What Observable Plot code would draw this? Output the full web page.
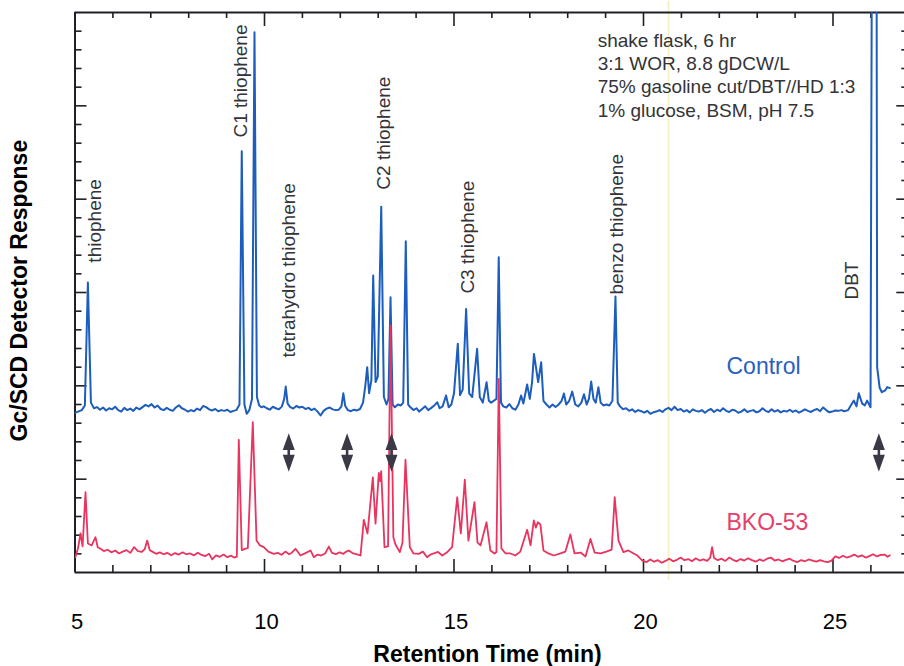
<!DOCTYPE html>
<html>
<head>
<meta charset="utf-8">
<script src="https://cdn.jsdelivr.net/npm/d3@7"></script>
<script src="https://cdn.jsdelivr.net/npm/@observablehq/plot@0.6"></script>
<style>
  html, body { margin: 0; padding: 0; background: #fff; overflow: hidden; }
  #chart { width: 904px; height: 666px; }
</style>
</head>
<body>
<div id="chart"></div>
<script>
// GC/SCD chromatograms: [retention time (min), detector response]
const controlTrace = [
  [5.00,8.55],[5.08,8.62],[5.18,8.70],[5.26,8.95],[5.34,15.53],[5.42,9.10],[5.50,8.80],[5.58,8.86],
  [5.66,8.72],[5.74,8.84],[5.82,8.68],[5.90,8.80],[5.98,8.74],[6.06,8.88],[6.14,8.70],[6.22,8.62],
  [6.30,8.82],[6.38,8.70],[6.46,8.78],[6.54,8.66],[6.62,8.84],[6.70,8.74],[6.78,8.86],[6.86,8.98],
  [6.94,8.90],[7.02,9.02],[7.10,8.84],[7.18,8.94],[7.26,8.76],[7.34,8.70],[7.42,8.82],[7.50,8.72],
  [7.58,8.66],[7.66,8.84],[7.74,8.96],[7.82,8.80],[7.90,8.72],[7.98,8.62],[8.06,8.70],[8.14,8.64],
  [8.22,8.78],[8.30,8.70],[8.38,8.92],[8.46,8.86],[8.54,8.74],[8.62,8.68],[8.70,8.76],[8.78,8.64],
  [8.86,8.70],[8.94,8.66],[9.02,8.72],[9.10,8.60],[9.18,8.66],[9.26,8.70],[9.34,9.00],[9.40,22.57],
  [9.47,9.00],[9.53,8.50],[9.60,8.70],[9.67,9.30],[9.736,28.94],[9.80,9.40],[9.86,8.95],[9.92,8.85],
  [9.98,8.90],[10.06,8.80],[10.14,8.72],[10.22,8.88],[10.30,8.80],[10.38,8.74],[10.46,8.90],[10.52,9.30],
  [10.56,9.96],[10.61,9.05],[10.68,8.86],[10.76,8.78],[10.84,8.92],[10.92,8.84],[11.00,8.88],[11.08,8.76],
  [11.16,8.82],[11.24,8.70],[11.32,8.78],[11.40,8.62],[11.48,8.41],[11.56,8.66],[11.64,8.78],[11.72,8.84],
  [11.80,8.74],[11.88,8.70],[11.96,8.72],[12.03,8.90],[12.08,9.60],[12.13,8.92],[12.20,8.70],[12.28,8.64],
  [12.36,8.72],[12.44,8.68],[12.52,8.76],[12.60,9.10],[12.66,10.00],[12.71,11.00],[12.76,9.60],[12.82,10.30],
  [12.868,15.91],[12.93,10.20],[12.99,10.50],[13.08,19.60],[13.15,9.40],[13.22,9.00],[13.27,9.30],[13.325,14.75],
  [13.38,9.00],[13.44,8.85],[13.52,9.00],[13.60,8.95],[13.66,9.10],[13.728,17.75],[13.79,9.00],[13.85,8.85],
  [13.93,8.70],[14.01,8.80],[14.08,8.62],[14.16,8.76],[14.24,8.90],[14.32,8.70],[14.40,8.82],[14.48,8.95],
  [14.56,9.12],[14.62,8.80],[14.70,8.90],[14.79,9.48],[14.86,8.85],[14.93,9.00],[15.00,9.60],[15.10,12.25],
  [15.16,9.50],[15.23,9.80],[15.32,14.12],[15.40,9.60],[15.48,9.40],[15.61,11.98],[15.68,9.40],[15.76,9.10],
  [15.86,10.19],[15.92,9.20],[15.98,9.10],[16.05,9.20],[16.12,9.30],[16.18,16.89],[16.24,9.10],[16.30,8.90],
  [16.38,8.84],[16.46,9.02],[16.54,8.80],[16.62,8.72],[16.70,9.00],[16.77,9.48],[16.83,9.05],[16.93,10.07],
  [17.00,9.30],[17.06,10.20],[17.11,11.71],[17.17,10.90],[17.22,10.20],[17.30,11.26],[17.36,9.20],[17.44,9.00],
  [17.52,8.84],[17.60,9.00],[17.68,8.86],[17.76,9.00],[17.84,9.20],[17.90,9.59],[17.96,9.00],[18.04,9.20],
  [18.12,9.69],[18.20,9.00],[18.28,8.90],[18.36,9.10],[18.43,9.55],[18.50,9.00],[18.56,9.30],[18.62,10.23],
  [18.68,9.30],[18.74,9.10],[18.81,9.93],[18.87,9.10],[18.94,8.95],[19.02,9.00],[19.10,8.95],[19.18,9.20],
  [19.26,14.78],[19.32,9.10],[19.38,8.90],[19.46,8.75],[19.54,8.80],[19.62,8.66],[19.70,8.74],[19.78,8.60],
  [19.86,8.70],[19.94,8.64],[20.02,8.56],[20.10,8.66],[20.18,8.50],[20.26,8.58],[20.34,8.62],[20.42,8.70],
  [20.50,8.60],[20.58,8.74],[20.66,8.82],[20.74,8.70],[20.82,8.88],[20.90,8.70],[20.98,8.76],[21.06,8.62],
  [21.14,8.70],[21.22,8.58],[21.30,8.74],[21.38,8.66],[21.46,8.62],[21.54,8.70],[21.62,8.56],[21.70,8.68],
  [21.78,8.76],[21.86,8.60],[21.94,8.72],[22.02,8.64],[22.10,8.80],[22.18,8.66],[22.26,8.60],[22.34,8.72],
  [22.42,8.68],[22.50,8.56],[22.58,8.62],[22.66,8.74],[22.74,8.60],[22.82,8.66],[22.90,8.70],[22.98,8.58],
  [23.06,8.64],[23.14,8.80],[23.22,8.66],[23.30,8.60],[23.38,8.74],[23.46,8.62],[23.54,8.70],[23.62,8.58],
  [23.70,8.66],[23.78,8.62],[23.86,8.72],[23.94,8.60],[24.02,8.68],[24.10,8.56],[24.18,8.64],[24.26,8.74],
  [24.34,8.66],[24.42,8.60],[24.50,8.70],[24.58,8.76],[24.66,8.64],[24.74,8.84],[24.82,8.70],[24.90,8.58],
  [24.98,8.62],[25.06,8.68],[25.14,8.66],[25.22,8.70],[25.30,8.64],[25.40,8.70],[25.47,8.95],[25.55,9.21],
  [25.62,8.90],[25.68,9.60],[25.77,9.05],[25.84,8.95],[25.90,9.21],[25.99,8.85],[26.035,40],[26.145,40],
  [26.165,11.00],[26.23,9.90],[26.29,9.66],[26.38,9.76],[26.43,9.93],[26.50,9.88]
];

const bko53Trace = [
  [5.01,0.82],[5.08,1.30],[5.145,2.09],[5.20,1.40],[5.277,4.30],[5.34,1.55],[5.44,1.45],[5.54,1.89],
  [5.60,1.35],[5.673,1.27],[5.76,1.15],[5.86,1.22],[5.96,1.08],[6.06,1.18],[6.16,1.02],[6.26,1.12],
  [6.36,1.20],[6.46,1.05],[6.56,1.36],[6.66,1.15],[6.76,1.10],[6.84,1.25],[6.905,1.71],[6.97,1.20],
  [7.04,1.12],[7.14,1.00],[7.24,1.08],[7.34,0.98],[7.44,1.05],[7.54,0.92],[7.64,1.04],[7.74,0.96],
  [7.84,1.08],[7.94,0.98],[8.04,1.02],[8.14,0.92],[8.24,1.06],[8.34,0.94],[8.44,0.88],[8.54,1.00],
  [8.62,0.70],[8.72,0.92],[8.82,0.84],[8.92,0.96],[9.02,0.82],[9.12,0.90],[9.20,0.80],[9.27,0.85],
  [9.322,7.11],[9.40,1.20],[9.50,1.28],[9.56,1.30],[9.691,8.05],[9.79,1.71],[9.88,1.45],[9.982,1.36],
  [10.10,1.12],[10.245,1.00],[10.35,1.05],[10.45,0.95],[10.55,1.12],[10.65,0.98],[10.72,1.06],[10.818,1.27],
  [10.95,0.91],[11.08,1.04],[11.214,1.18],[11.30,0.82],[11.40,0.96],[11.496,0.91],[11.60,1.02],[11.697,1.39],
  [11.78,1.05],[11.88,0.98],[11.98,1.08],[12.08,1.00],[12.16,1.12],[12.224,1.18],[12.32,1.04],[12.42,0.98],
  [12.533,0.91],[12.62,2.82],[12.718,2.09],[12.858,5.10],[12.929,2.62],[13.016,5.34],[13.05,4.90],[13.079,5.43],
  [13.166,1.36],[13.26,1.40],[13.325,13.23],[13.40,1.89],[13.456,1.50],[13.57,1.09],[13.64,1.60],[13.72,6.04],
  [13.834,1.36],[13.93,1.02],[14.07,1.00],[14.18,1.12],[14.29,0.82],[14.38,0.96],[14.47,1.03],[14.58,1.10],
  [14.69,0.91],[14.82,1.09],[14.95,1.36],[15.085,4.03],[15.18,2.09],[15.285,4.97],[15.38,1.71],[15.54,3.77],
  [15.62,1.60],[15.70,1.45],[15.858,2.69],[15.96,1.18],[16.07,1.02],[16.12,1.10],[16.182,10.37],[16.25,1.29],
  [16.36,1.02],[16.49,1.02],[16.62,0.91],[16.75,1.12],[16.93,2.29],[17.02,1.45],[17.106,2.79],[17.16,2.40],
  [17.21,2.69],[17.28,2.57],[17.36,1.18],[17.49,1.02],[17.63,0.91],[17.81,1.02],[17.94,1.12],[18.07,2.04],
  [18.18,1.02],[18.34,1.07],[18.47,0.86],[18.60,1.80],[18.71,1.07],[18.87,1.02],[19.02,1.12],[19.16,1.23],
  [19.24,4.03],[19.34,1.71],[19.47,1.09],[19.60,1.18],[19.74,1.02],[19.84,0.91],[19.97,0.64],[20.08,0.56],
  [20.18,0.70],[20.28,0.58],[20.38,0.66],[20.48,0.52],[20.58,0.62],[20.68,0.74],[20.78,0.60],[20.88,0.68],
  [20.98,0.80],[21.08,0.66],[21.18,0.72],[21.28,0.60],[21.38,0.76],[21.48,0.64],[21.58,0.70],[21.68,0.62],
  [21.76,0.80],[21.81,1.36],[21.86,0.78],[21.96,0.66],[22.06,0.74],[22.16,0.62],[22.26,0.80],[22.36,0.68],
  [22.46,0.60],[22.56,0.72],[22.66,0.64],[22.76,0.76],[22.86,0.66],[22.96,0.58],[23.06,0.70],[23.16,0.62],
  [23.26,0.74],[23.36,0.80],[23.46,0.64],[23.56,0.70],[23.66,0.60],[23.76,0.68],[23.86,0.74],[23.96,0.62],
  [24.06,0.56],[24.16,0.66],[24.26,0.60],[24.36,0.70],[24.46,0.64],[24.56,0.58],[24.66,0.66],[24.76,0.60],
  [24.86,0.56],[24.96,0.64],[25.06,0.86],[25.16,0.78],[25.26,0.90],[25.36,0.80],[25.46,0.86],[25.56,0.96],
  [25.66,0.84],[25.76,0.92],[25.86,0.80],[25.96,0.88],[26.06,0.98],[26.16,0.86],[26.26,0.94],[26.36,0.96],
  [26.44,0.84],[26.50,0.92]
];

// Identified sulfur compounds and the retention time each label sits at
const compoundNames = ["thiophene", "C1 thiophene", "tetrahydro thiophene", "C2 thiophene",
                       "C3 thiophene", "benzo thiophene", "DBT"];
const compoundTimes = [5.515, 9.367, 10.633, 13.14, 15.356, 19.31, 25.49];

// Peaks that disappear in the BKO-53 run (double arrows)
const removedPeakTimes = [10.64, 12.18, 13.35, 26.21];

const conditions = ["shake flask, 6 hr", "3:1 WOR, 8.8 gDCW/L",
                    "75% gasoline cut/DBT//HD 1:3", "1% glucose, BSM, pH 7.5"];

const xTickLabels = [5, 10, 15, 20, 25];
const minuteTicks = d3.range(5, 28);
const responseTicks = d3.range(0, 31);

// ---- layout & styling ----
const font = "'Liberation Sans', Arial, Helvetica, sans-serif";
const blue = "#1c5dbd";
const red = "#e8345e";
const ink = "#1f1f28";
const labelInk = "#333338";
const labelBase = [16.6, 23.3, 11.52, 20.51, 14.94, 14.89, 14.62];

const rows = pts => pts.map(([time, response]) => ({time, response}));
const labels = compoundNames.map((name, i) => ({name, time: compoundTimes[i], base: labelBase[i]}));

// double-headed arrow glyph
const doubleArrow = {
  draw(ctx, size) {
    const r = Math.sqrt(size / Math.PI);
    ctx.moveTo(0, -2.4 * r);
    ctx.lineTo(0.75 * r, -0.3 * r);
    ctx.lineTo(0.16 * r, -0.3 * r);
    ctx.lineTo(0.16 * r, 0.3 * r);
    ctx.lineTo(0.75 * r, 0.3 * r);
    ctx.lineTo(0, 2.4 * r);
    ctx.lineTo(-0.75 * r, 0.3 * r);
    ctx.lineTo(-0.16 * r, 0.3 * r);
    ctx.lineTo(-0.16 * r, -0.3 * r);
    ctx.lineTo(-0.75 * r, -0.3 * r);
    ctx.closePath();
  }
};

const major = v => v % 5 === 0;
const innerMinutes = minuteTicks.filter(t => t > 5 && t < 27);
const innerResponses = responseTicks.filter(v => v > 0 && v < 30);

const chart = Plot.plot({
  width: 904,
  height: 666,
  marginLeft: 74.5,
  marginRight: -4.3,
  marginTop: 12,
  marginBottom: 94,
  x: {domain: [5, 27], label: null},
  y: {domain: [0, 30], axis: null, label: null},
  style: {fontFamily: font, background: "#fff", color: ink},
  marks: [
    // faint vertical streak across the sheet
    Plot.ruleX([20.66], {y1: -0.43, y2: 30.6, stroke: "#f3efc2", strokeWidth: 1.6}),

    // frame
    Plot.ruleY([0, 30], {stroke: ink, strokeWidth: 2}),
    Plot.ruleX([5, 27], {stroke: ink, strokeWidth: 2}),

    // inward ticks: bottom, top, left, right
    Plot.ruleX(innerMinutes, {x: d => d, y1: 0, y2: d => major(d) ? 0.70 : 0.375, stroke: ink, strokeWidth: 1.6}),
    Plot.ruleX(innerMinutes, {x: d => d, y1: 30, y2: d => major(d) ? 29.25 : 29.68, stroke: ink, strokeWidth: 1.6}),
    Plot.ruleY(innerResponses, {y: d => d, x1: 5, x2: d => major(d) ? 5.317 : 5.185, stroke: ink, strokeWidth: 1.6}),
    Plot.ruleY(innerResponses, {y: d => d, x1: 27, x2: d => major(d) ? 26.683 : 26.815, stroke: ink, strokeWidth: 1.6}),

    Plot.axisX(xTickLabels, {anchor: "bottom", tickSize: 0, tickPadding: 41, fontSize: 22, dx: 2, label: null, fill: "#000"}),

    // chromatograms
    Plot.line(rows(controlTrace), {x: "time", y: "response", stroke: blue, strokeWidth: 2, clip: true, strokeLinejoin: "round"}),
    Plot.line(rows(bko53Trace), {x: "time", y: "response", stroke: red, strokeWidth: 1.8, clip: true, strokeLinejoin: "round"}),

    // removed peaks
    Plot.dot(removedPeakTimes, {x: d => d, y: 6.43, r: 8, symbol: doubleArrow, fill: "#3a3a46", stroke: null}),

    // compound labels
    Plot.text(labels, {x: "time", y: "base", text: "name", rotate: -90, textAnchor: "start", fontSize: 19, fill: labelInk}),

    // run conditions
    Plot.text([conditions.join("\n")], {x: 18.79, y: 29.06, textAnchor: "start", lineAnchor: "top", lineHeight: 1.23, fontSize: 19, fill: labelInk}),

    // series names
    Plot.text(["Control"], {x: 22.19, y: 11.03, textAnchor: "start", fontSize: 23, fill: "#2a60c0"}),
    Plot.text(["BKO-53"], {x: 22.19, y: 2.65, textAnchor: "start", fontSize: 23, fill: "#e5406a"}),

    // axis titles
    Plot.text(["Gc/SCD Detector Response"], {x: 3.536, y: 15.1, rotate: -90, fontSize: 23, fontWeight: "bold", fill: "#000"}),
    Plot.text(["Retention Time (min)"], {x: 15.884, y: -4.42, fontSize: 23, fontWeight: "bold", fill: "#000"})
  ]
});

document.getElementById("chart").append(chart);
</script>
</body>
</html>
